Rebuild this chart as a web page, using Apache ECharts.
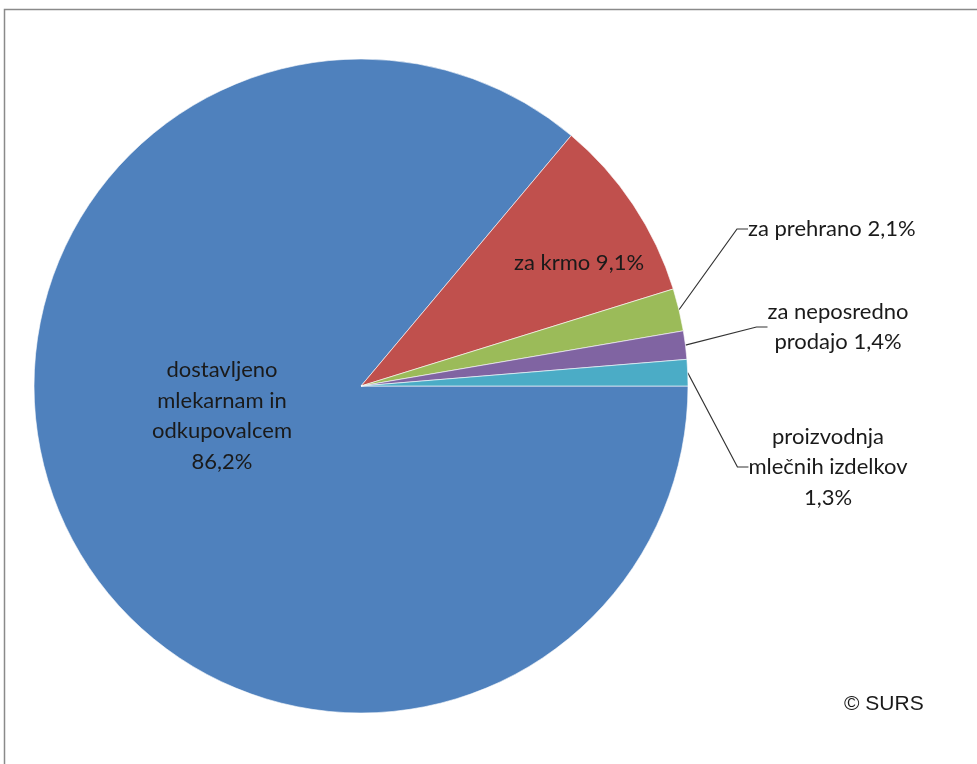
<!DOCTYPE html>
<html>
<head>
<meta charset="utf-8">
<script src="https://cdn.jsdelivr.net/npm/echarts@6/dist/echarts.min.js"></script>
<style>html,body{margin:0;padding:0;background:#fff;}#c{width:977px;height:764px;}</style>
</head>
<body>
<div id="c"></div>
<script>
const categories = ['dostavljeno\nmlekarnam in\nodkupovalcem', 'za krmo', 'za prehrano', 'za neposredno\nprodajo', 'proizvodnja\nmlečnih izdelkov'];
const values = [86.2, 9.1, 2.1, 1.4, 1.3];
const colors = ['#4F81BD', '#C0504D', '#9BBB59', '#8064A2', '#4BACC6'];
const labelTexts = ['dostavljeno\nmlekarnam in\nodkupovalcem\n86,2%', 'za krmo 9,1%', 'za prehrano 2,1%', 'za neposredno\nprodajo 1,4%', 'proizvodnja\nmlečnih izdelkov\n1,3%'];

const labelPos = [
  {x: 222, y: 416, align: 'center'},
  {x: 579, y: 263, align: 'center'},
  {x: 748, y: 229, align: 'left'},
  {x: 838, y: 327, align: 'center'},
  {x: 828, y: 467, align: 'center'}
];

const chart = echarts.init(document.getElementById('c'));
const font = 'Lato, "Open Sans", sans-serif';
chart.setOption({
  animation: false,
  backgroundColor: '#fff',
  graphic: [
    {type: 'rect', shape: {x: 4.5, y: 9.5, width: 1000, height: 800}, style: {fill: 'none', stroke: '#8a8a8a', lineWidth: 1.5}, silent: true},
    {type: 'text', left: 844, top: 694, style: {text: '© SURS', font: '21px "Liberation Sans", Arial, sans-serif', fill: '#1a1a1a'}}
  ],
  series: [{
    type: 'pie',
    center: [361, 386],
    radius: 327,
    startAngle: 0,
    clockwise: true,
    avoidLabelOverlap: false,
    itemStyle: {borderColor: 'rgba(255,255,255,0.6)', borderWidth: 1},
    emphasis: {disabled: true},
    label: {
      fontFamily: font, fontSize: 22, lineHeight: 30.5, color: '#1a1a1a'
    },
    labelLine: {lineStyle: {color: '#333', width: 1.2}, length: 20, length2: 11},
    labelLayout: function (p) {
      const lp = labelPos[p.dataIndex];
      return {x: lp.x, y: lp.y, align: lp.align, verticalAlign: 'middle'};
    },
    data: categories.map((c, i) => ({
      name: c,
      value: values[i],
      itemStyle: {color: colors[i]},
      label: {position: i < 2 ? 'inside' : 'outside', formatter: labelTexts[i], align: labelPos[i].align},
      labelLine: {show: i >= 2}
    }))
  }]
});
</script>
</body>
</html>
